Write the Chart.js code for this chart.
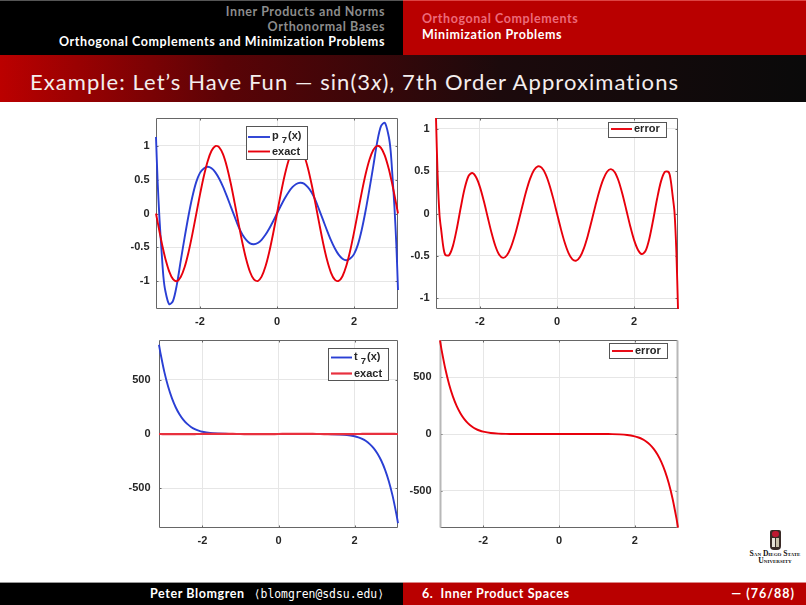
<!DOCTYPE html>
<html>
<head>
<meta charset="utf-8">
<title>Example: Let's Have Fun</title>
<script src="https://cdn.jsdelivr.net/npm/chart.js@4/dist/chart.umd.min.js"></script>
<style>
html,body{margin:0;padding:0;background:#fff;}
#page{position:relative;width:806px;height:605px;overflow:hidden;background:#fff;font-family:Lato,"Open Sans",sans-serif;}
.abs{position:absolute;white-space:nowrap;}
canvas{position:absolute;}
.nav{font-size:12.5px;font-weight:700;line-height:14px;letter-spacing:.58px;}
</style>
</head>
<body>
<div id="page">
  <div class="abs" style="left:0;top:0;width:403px;height:55px;background:#000;border-top:1px solid #555;box-sizing:border-box;"></div>
  <div class="abs" style="left:403px;top:0;width:403px;height:55px;background:#b90000;border-top:1px solid #d44;box-sizing:border-box;"></div>
  <div class="abs nav" style="right:421px;top:5px;color:#8c8c8c;">Inner Products and Norms</div>
  <div class="abs nav" style="right:421px;top:20px;color:#8c8c8c;">Orthonormal Bases</div>
  <div class="abs nav" style="right:421px;top:35px;color:#fff;">Orthogonal Complements and Minimization Problems</div>
  <div class="abs nav" style="left:422px;top:12px;color:#ec6a7a;">Orthogonal Complements</div>
  <div class="abs nav" style="left:422px;top:28px;color:#fff;">Minimization Problems</div>
  <div class="abs" style="left:0;top:55px;width:806px;height:47px;background:linear-gradient(90deg,#bb0000 0%,#5a0306 28%,#1c0a0c 62%,#0a0a0a 100%);"></div>
  <div class="abs" id="title" style="left:30px;top:67px;color:#f4eeee;font-size:22px;line-height:30px;letter-spacing:1.06px;font-weight:400;">Example: Let’s Have Fun — sin(3<i>x</i>), 7th Order Approximations</div>

  <canvas id="c1" width="296" height="221" style="left:108px;top:112px"></canvas>
  <canvas id="c2" width="296" height="221" style="left:388px;top:112px"></canvas>
  <canvas id="c3" width="293" height="218" style="left:111px;top:334px"></canvas>
  <canvas id="c4" width="292" height="218" style="left:392px;top:334px"></canvas>

  <div class="abs" style="left:770px;top:530px;width:11px;height:20px;background:#3a2a26;border-radius:2px 2px 4px 4px;"></div>
  <div class="abs" style="left:772px;top:531px;width:7px;height:6px;background:#c01830;border-radius:3px;"></div>
  <div class="abs" style="left:772px;top:538px;width:3px;height:9px;background:#e8e2d8;"></div>
  <div class="abs" style="left:776px;top:538px;width:3px;height:9px;background:#c9bfa8;"></div>
  <div class="abs" style="left:745px;top:551px;width:60px;text-align:center;font-family:'Liberation Serif',serif;font-weight:700;font-size:7.6px;line-height:6.6px;color:#111;font-variant:small-caps;">San Diego State<br>University</div>

  <div class="abs" style="left:0;top:582px;width:403px;height:23px;background:#000;border-top:1px solid #999;box-sizing:border-box;"></div>
  <div class="abs" style="left:403px;top:582px;width:403px;height:23px;background:#b90000;border-top:1px solid #d88;box-sizing:border-box;"></div>
  <div class="abs nav" style="left:150px;top:587px;color:#fff;">Peter Blomgren</div>
  <div class="abs" style="right:422px;top:587px;color:#fff;font-family:'DejaVu Sans Mono',monospace;font-size:11.4px;line-height:14px;">⟨blomgren@sdsu.edu⟩</div>
  <div class="abs nav" style="left:422px;top:587px;color:#fff;">6.&nbsp; Inner Product Spaces</div>
  <div class="abs nav" style="right:11px;top:587px;color:#fff;letter-spacing:1px;">— (76/88)</div>
</div>

<script>
// ---- Data ----
const xTop = [-3.1416,-3.1,-3.05,-3,-2.95,-2.9,-2.8,-2.7,-2.6,-2.5,-2.4,-2.3,-2.2,-2.1,-2,-1.9,-1.8,-1.7,-1.6,-1.5,-1.4,-1.3,-1.2,-1.1,-1,-0.9,-0.8,-0.7,-0.6,-0.5,-0.4,-0.3,-0.2,-0.1,0,0.1,0.2,0.3,0.4,0.5,0.6,0.7,0.8,0.9,1,1.1,1.2,1.3,1.4,1.5,1.6,1.7,1.8,1.9,2,2.1,2.2,2.3,2.4,2.5,2.6,2.7,2.8,2.9,2.95,3,3.05,3.1,3.1416];
const p7Values = [1.13,0.48,-0.09,-0.53,-0.93,-1.14,-1.34,-1.29,-1.05,-0.70,-0.36,-0.04,0.24,0.46,0.60,0.665,0.69,0.668,0.608,0.513,0.393,0.252,0.102,-0.047,-0.195,-0.31,-0.388,-0.441,-0.454,-0.435,-0.388,-0.315,-0.222,-0.115,0,0.115,0.222,0.315,0.388,0.435,0.454,0.441,0.388,0.31,0.195,0.047,-0.102,-0.252,-0.393,-0.513,-0.608,-0.668,-0.69,-0.665,-0.60,-0.46,-0.24,0.04,0.36,0.70,1.05,1.29,1.34,1.14,0.93,0.53,0.09,-0.48,-1.13];
const exactTop = [0,-0.1245,-0.2712,-0.4121,-0.5437,-0.6636,-0.8546,-0.9699,-0.9985,-0.938,-0.7937,-0.5784,-0.3115,-0.0168,0.2794,0.5507,0.7728,0.9258,0.9962,0.9775,0.8716,0.6878,0.4425,0.1577,-0.1411,-0.4274,-0.6755,-0.8632,-0.9738,-0.9975,-0.932,-0.7833,-0.5646,-0.2955,0,0.2955,0.5646,0.7833,0.932,0.9975,0.9738,0.8632,0.6755,0.4274,0.1411,-0.1577,-0.4425,-0.6878,-0.8716,-0.9775,-0.9962,-0.9258,-0.7728,-0.5507,-0.2794,0.0168,0.3115,0.5784,0.7937,0.938,0.9985,0.9699,0.8546,0.6636,0.5437,0.4121,0.2712,0.1245,0];
const errorTop = [1.13,0.46,-0.02,-0.22,-0.40,-0.49,-0.492,-0.38,-0.177,0.068,0.292,0.441,0.479,0.428,0.312,0.147,-0.042,-0.228,-0.385,-0.489,-0.525,-0.494,-0.404,-0.267,-0.097,0.086,0.262,0.409,0.512,0.558,0.543,0.469,0.344,0.182,0,-0.182,-0.344,-0.469,-0.543,-0.558,-0.512,-0.409,-0.262,-0.086,0.097,0.267,0.404,0.494,0.525,0.489,0.385,0.228,0.042,-0.147,-0.312,-0.428,-0.479,-0.441,-0.292,-0.068,0.177,0.38,0.492,0.49,0.40,0.22,0.02,-0.46,-1.13];

const xBottom = [-3.1416,-3.1,-3,-2.9,-2.8,-2.7,-2.6,-2.5,-2.4,-2.3,-2.2,-2.1,-2,-1.8,-1.6,-1.4,-1.2,-1,-0.8,-0.6,-0.4,-0.2,0,0.2,0.4,0.6,0.8,1,1.2,1.4,1.6,1.8,2,2.1,2.2,2.3,2.4,2.5,2.6,2.7,2.8,2.9,3,3.1,3.1416];
const t7Values = [821,738.7,569.5,434.3,327.4,243.8,179.2,129.8,92.8,65.2,45.2,30.8,20.7,9.15,4.05,1.83,0.692,-0.091,-0.669,-0.973,-0.932,-0.565,0,0.565,0.932,0.973,0.669,0.091,-0.692,-1.83,-4.05,-9.15,-20.7,-30.8,-45.2,-65.2,-92.8,-129.8,-179.2,-243.8,-327.4,-434.3,-569.5,-738.7,-821];
const exactBottom = [0,-0.12,-0.41,-0.66,-0.85,-0.97,-1,-0.94,-0.79,-0.58,-0.31,-0.02,0.28,0.77,1,0.87,0.44,-0.14,-0.68,-0.97,-0.93,-0.56,0,0.56,0.93,0.97,0.68,0.14,-0.44,-0.87,-1,-0.77,-0.28,0.02,0.31,0.58,0.79,0.94,1,0.97,0.85,0.66,0.41,0.12,0];
const errorBottom = [821,738.8,569.9,435,328.3,244.8,180.2,130.7,93.6,65.8,45.5,30.8,20.4,8.38,3.05,0.96,0.25,0.05,0.006,0,0,0,0,0,0,0,-0.006,-0.05,-0.25,-0.96,-3.05,-8.38,-20.4,-30.8,-45.5,-65.8,-93.6,-130.7,-180.2,-244.8,-328.3,-435,-569.9,-738.8,-821];

const xTicks = [-2,0,2];
const yTicksTop = [-1,-0.5,0,0.5,1];
const yTicksBottom = [-500,0,500];
const labelP7 = ["p ", "7", "(x)"];
const labelT7 = ["t ", "7", "(x)"];
const labelExact = "exact";
const labelError = "error";

const BLUE = "#2a3fd4", RED = "#e8000c";
const FONT = 'bold 11px "Liberation Sans", Arial, sans-serif';

const insideAxes = {
  id: "insideAxes",
  beforeDatasetsDraw(chart, args, o) {
    const {ctx, chartArea: a, scales} = chart;
    ctx.save();
    ctx.strokeStyle = "#666"; ctx.lineWidth = 1;
    scales.x.ticks.forEach(t => {
      const p = Math.round(scales.x.getPixelForValue(t.value)) + .5;
      ctx.beginPath();
      ctx.moveTo(p, a.top); ctx.lineTo(p, a.top + 2.5);
      ctx.moveTo(p, a.bottom); ctx.lineTo(p, a.bottom - 2.5);
      ctx.stroke();
    });
    scales.y.ticks.forEach(t => {
      const p = Math.round(scales.y.getPixelForValue(t.value)) + .5;
      ctx.beginPath();
      ctx.moveTo(a.left, p); ctx.lineTo(a.left + 2.5, p);
      ctx.moveTo(a.right, p); ctx.lineTo(a.right - 2.5, p);
      ctx.stroke();
    });
    const L = Math.round(a.left) + .5, R = Math.round(a.right) - .5, T = Math.round(a.top) + .5, B = Math.round(a.bottom) - .5;
    ctx.strokeStyle = "#666"; ctx.lineWidth = 1;
    ctx.beginPath(); ctx.moveTo(L, T); ctx.lineTo(R, T); ctx.moveTo(L, B); ctx.lineTo(R, B); ctx.stroke();
    ctx.strokeStyle = o.sideColor || "#666"; ctx.lineWidth = o.sideWidth || 1;
    ctx.beginPath(); ctx.moveTo(L, T); ctx.lineTo(L, B); ctx.moveTo(R, T); ctx.lineTo(R, B); ctx.stroke();
    ctx.restore();
  },
  afterDatasetsDraw(chart, args, o) {
    // legend box inside the axes, entries come from the datasets
    const {ctx} = chart;
    const lg = o.legend;
    ctx.save();
    ctx.fillStyle = "#fff"; ctx.fillRect(lg.x, lg.y, lg.w, lg.h);
    ctx.strokeStyle = "#555"; ctx.lineWidth = 1;
    ctx.strokeRect(Math.round(lg.x) + .5, Math.round(lg.y) + .5, Math.round(lg.w), Math.round(lg.h));
    ctx.textBaseline = "middle"; ctx.textAlign = "left";
    chart.data.datasets.forEach((ds, i) => {
      const y = lg.rows[i];
      ctx.strokeStyle = ds.borderColor; ctx.lineWidth = ds.borderWidth;
      ctx.beginPath(); ctx.moveTo(lg.lineFrom, y); ctx.lineTo(lg.lineTo, y); ctx.stroke();
      ctx.fillStyle = "#262626"; ctx.font = FONT;
      let tx = lg.textX;
      const parts = ds.labelParts || [ds.label];
      parts.forEach((part, k) => {
        const sub = parts.length === 3 && k === 1;
        ctx.font = sub ? 'bold 9.5px "Liberation Sans", Arial, sans-serif' : FONT;
        ctx.fillText(part, tx, sub ? y + 3.5 : y - (parts.length === 3 ? 1 : 0));
        tx += ctx.measureText(part).width + (sub ? 1 : 0);
      });
    });
    ctx.restore();
  }
};

function pts(xs, ys) { return xs.map((x, i) => ({x, y: ys[i]})); }

function makeChart(id, xs, series, yLim, yTicks, yFmt, tickPad, legend, extra) {
  const cv = document.getElementById(id);
  new Chart(cv, {
    type: "scatter",
    data: {
      datasets: series.map((s, i) => ({
        label: s.label, labelParts: s.parts,
        data: pts(xs, s.values),
        showLine: true, pointRadius: 0, borderColor: s.color, borderWidth: s.width || 1.9,
        tension: 0.3, fill: false, clip: 3, order: series.length - i
      }))
    },
    options: {
      responsive: false, animation: false, devicePixelRatio: 1,
      layout: {padding: {left: 0, top: 6, right: 6, bottom: 0}},
      plugins: {
        legend: {display: false}, tooltip: {enabled: false}, title: {display: false},
        insideAxes: Object.assign({legend}, extra || {})
      },
      scales: {
        x: {
          type: "linear", min: -3.1416, max: 3.1416,
          border: {display: false},
          grid: {color: "#e6e6e6", lineWidth: 1, drawTicks: false},
          ticks: {padding: 6, color: "#262626", maxRotation: 0, autoSkip: false,
                  font: {family: '"Liberation Sans", Arial, sans-serif', size: 11, weight: "bold"},
                  callback: v => String(v)},
          afterBuildTicks: sc => { sc.ticks = xTicks.map(value => ({value})); },
          afterFit: sc => { sc.height = 24; sc.paddingLeft = 0; sc.paddingRight = 0; }
        },
        y: {
          type: "linear", min: -yLim, max: yLim,
          border: {display: false},
          grid: {color: "#e6e6e6", lineWidth: 1, drawTicks: false},
          ticks: {padding: tickPad, color: "#262626", autoSkip: false,
                  font: {family: '"Liberation Sans", Arial, sans-serif', size: 11, weight: "bold"},
                  callback: yFmt},
          afterBuildTicks: sc => { sc.ticks = yTicks.map(value => ({value})); },
          afterFit: sc => { sc.width = 48; sc.paddingTop = 0; sc.paddingBottom = 0; }
        }
      }
    },
    plugins: [insideAxes]
  });
}

const fmt = v => String(v);

// canvas origin: (108,112) — plot 156..398 x 118..309
makeChart("c1", xTop, [
  {label: labelP7.join(""), parts: labelP7, values: p7Values, color: BLUE},
  {label: labelExact, values: exactTop, color: RED}
], 1.41, yTicksTop, fmt, 6.5,
  {x: 138, y: 14, w: 61, h: 33, rows: [25, 39.5], lineFrom: 140, lineTo: 162, textX: 164});

// canvas origin: (388,112) — plot 436..678 x 118..309
makeChart("c2", xTop, [
  {label: labelError, values: errorTop, color: RED}
], 1.13, yTicksTop, fmt, 6.5,
  {x: 220, y: 10, w: 58, h: 15, rows: [17], lineFrom: 223, lineTo: 244, textX: 246});

// canvas origin: (111,334) — plot 159..398 x 340..528
makeChart("c3", xBottom, [
  {label: labelT7.join(""), parts: labelT7, values: t7Values, color: BLUE},
  {label: labelExact, values: exactBottom, color: "#e8303e", width: 2.2}
], 865, yTicksBottom, fmt, 8.5,
  {x: 217, y: 14, w: 60, h: 32, rows: [23.5, 39.5], lineFrom: 220, lineTo: 241, textX: 243});

// canvas origin: (392,334) — plot 440..678 x 340..528
makeChart("c4", xBottom, [
  {label: labelError, values: errorBottom, color: RED}
], 825, yTicksBottom, fmt, 8.5,
  {x: 217, y: 9, w: 58, h: 15, rows: [17], lineFrom: 220, lineTo: 241, textX: 243},
  {sideColor: "#b8b8b8", sideWidth: 2});
</script>
</body>
</html>
